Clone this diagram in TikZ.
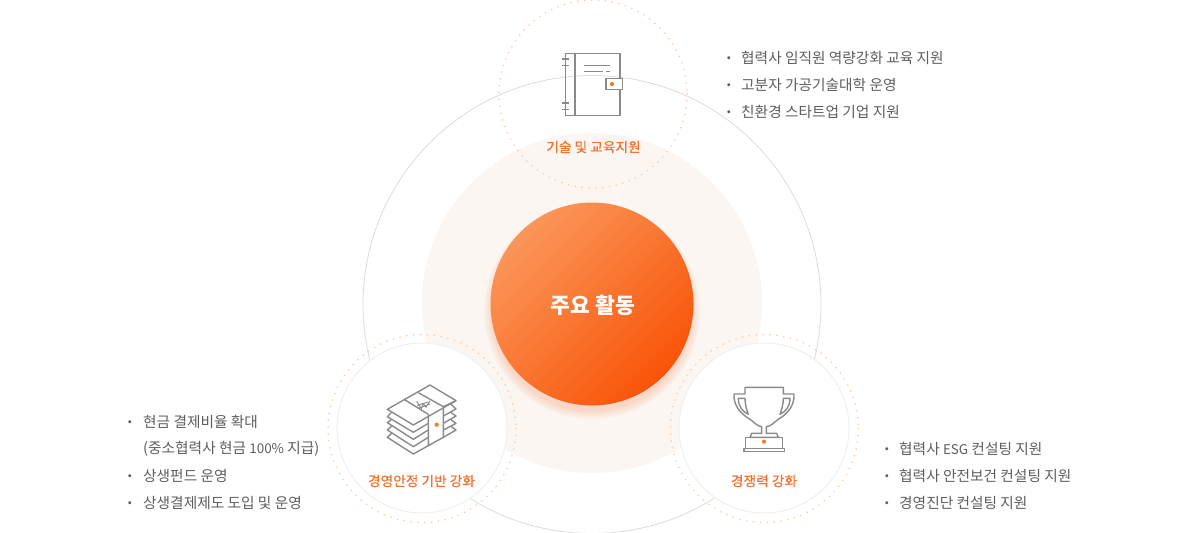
\documentclass[tikz,border=0pt]{standalone}
\usepackage{fontspec}
\setmainfont{Noto Sans CJK KR}
\definecolor{ringgray}{HTML}{DCDCDC}
\definecolor{palefill}{HTML}{FBF6F2}
\definecolor{dotorange}{HTML}{FACBAB}
\definecolor{labelorange}{HTML}{F4712B}
\definecolor{icongray}{HTML}{8A8A8A}
\definecolor{textgray}{HTML}{5E5E5E}
\definecolor{coreA}{HTML}{FA9659}
\definecolor{coreB}{HTML}{F95408}
\definecolor{dotcol}{HTML}{F77A30}
\newcommand{\latinpart}[1]{{\fontsize{13.4}{16}\selectfont #1}}
\tikzset{
  x=1pt,y=-1pt,
  dotring/.style={draw=dotorange,line width=1.8pt,line cap=round,dash pattern=on 0pt off 6.9pt},
  innerring/.style={circle,draw=black!6,line width=1pt,fill=white,minimum size=170pt,inner sep=0pt},
  listtext/.style={anchor=west,inner sep=0pt,text=textgray,font=\fontsize{14.7}{16}\selectfont},
  bullettext/.style={anchor=center,inner sep=0pt,text=textgray,font=\fontsize{14}{14}\selectfont\bfseries},
  circlabel/.style={anchor=center,inner sep=0pt,text=labelorange,font=\fontsize{13.7}{15}\selectfont\addfontfeature{FakeBold=0.35}},
  iconline/.style={draw=icongray,line width=1.4pt,line join=miter},
  icondot/.style={circle,fill=dotcol,minimum size=4.2pt,inner sep=0pt},
}
\begin{document}
\begin{tikzpicture}
\useasboundingbox (0,0) rectangle (1200,533);
\fill[white] (0,0) rectangle (1200,533);
% rings
\node[circle,draw=ringgray,line width=.8pt,minimum size=458pt,inner sep=0pt] (bigring) at (592,304.5) {};
\node[circle,fill=palefill,minimum size=340pt,inner sep=0pt] (palering) at (592,303) {};
% glow under the core
\foreach \r in {108,106.5,...,100}{\fill[coreB,opacity=.03] (592,311) circle (\r);}
\shade[shading=axis,left color=coreA,right color=coreB,shading angle=45] (592,304) circle (101.5);
\node[inner sep=0pt,text=white,font=\fontsize{21.5}{24}\selectfont\bfseries] (core) at (593,305) {주요 활동};
% top group
\draw[dotring] (593,94) circle (94);
\node[circlabel] (toplabel) at (593.5,147) {기술 및 교육지원};
% left group
\node[innerring] (leftring) at (422,428) {};
\draw[dotring] (422,428.5) circle (94);
\node[circlabel] (leftlabel) at (421.5,481) {경영안정 기반 강화};
% right group
\node[innerring] (rightring) at (764,428) {};
\draw[dotring] (764.5,428.5) circle (94);
\node[circlabel] (rightlabel) at (764,481) {경쟁력 강화};
% book icon
\begin{scope}[iconline]
\draw (565.3,53.3) rectangle (620,115.3);
\draw[line width=1.9pt] (575,53.3) -- (575,115.3);
\draw (562,59) -- (569,59) (562,65.7) -- (569,65.7) (562,103) -- (569,103) (562,109.3) -- (569,109.3);
\draw (584.3,65.7) -- (610,65.7) (584.3,71.3) -- (603,71.3) (606,71.3) -- (610,71.3);
\draw[fill=white] (606,78.7) rectangle (622.7,89.7);
\end{scope}
\node[icondot] (bookdot) at (612,84) {};
% money icon
\begin{scope}[shift={(380,380)},x=.3333pt,y=-.3333pt,iconline,line join=round]
\draw (22,88) -- (150,15) -- (228,62) -- (100,135) -- cycle;
\draw (72,58) -- (145,103) (115,38) -- (190,80);
\draw (145,103) -- (145,197) -- (190,172) -- (190,80);
\draw (35,97) -- (22,110) -- (100,157) -- (145,130);
\draw (35,118) -- (22,128) -- (100,178) -- (145,150);
\draw (35,138) -- (22,150) -- (100,200) -- (145,172);
\draw (35,160) -- (22,172) -- (100,222) -- (145,197);
\draw (190,80) -- (228,62);
\draw (212,72) -- (228,87) -- (190,108);
\draw (212,97) -- (228,108) -- (190,130);
\draw (212,118) -- (228,130) -- (190,150);
\draw (212,138) -- (228,150) -- (190,172);
\draw[line width=.9pt] (110,64) -- (124,86) -- (130,70) -- (138,82) -- (150,62) (112,76) -- (144,66) (117,84) -- (150,72);
\end{scope}
\node[icondot] (moneydot) at (436.7,424.7) {};
% trophy icon
\begin{scope}[shift={(720,380)},x=.3333pt,y=-.3333pt,iconline,line join=round]
\draw (75,42) -- (75,22) -- (190,22) -- (190,42) -- (222,42)
  .. controls (224,75) and (205,100) .. (175,118)
  .. controls (160,128) and (155,138) .. (139,140) -- (139,160) -- (170,160) -- (175,172)
  -- (90,172) -- (95,160) -- (125,160) -- (125,140)
  .. controls (110,138) and (105,128) .. (90,118)
  .. controls (60,100) and (40,75) .. (42,42) -- cycle;
\draw (55,55) -- (75,55) .. controls (75,72) and (80,90) .. (85,103) .. controls (68,95) and (55,80) .. cycle;
\draw (210,55) -- (190,55) .. controls (190,72) and (185,90) .. (180,103) .. controls (197,95) and (210,80) .. cycle;
\draw (77,172) rectangle (187,205);
\draw (72,205) rectangle (193,214);
\end{scope}
\node[icondot] (trophydot) at (764,441.7) {};
% top list
\node[bullettext] (tb1) at (729,60) {·};
\node[listtext] (tl1) at (741,57.5) {협력사 임직원 역량강화 교육 지원};
\node[bullettext] (tb2) at (729,87) {·};
\node[listtext] (tl2) at (741,84.5) {고분자 가공기술대학 운영};
\node[bullettext] (tb3) at (729,114) {·};
\node[listtext] (tl3) at (741,111.5) {친환경 스타트업 기업 지원};
% left list
\node[bullettext] (lb1) at (130,424) {·};
\node[listtext] (ll1) at (143,421.5) {현금 결제비율 확대};
\node[listtext] (ll2) at (143,448.5) {(중소협력사 현금 \latinpart{100\%} 지급)};
\node[bullettext] (lb3) at (130,478) {·};
\node[listtext] (ll3) at (143,475.5) {상생펀드 운영};
\node[bullettext] (lb4) at (130,505) {·};
\node[listtext] (ll4) at (143,502.5) {상생결제제도 도입 및 운영};
% right list
\node[bullettext] (rb1) at (887,451) {·};
\node[listtext] (rl1) at (899,448.5) {협력사 \latinpart{ESG} 컨설팅 지원};
\node[bullettext] (rb2) at (887,478) {·};
\node[listtext] (rl2) at (899,475.5) {협력사 안전보건 컨설팅 지원};
\node[bullettext] (rb3) at (887,505) {·};
\node[listtext] (rl3) at (899,502.5) {경영진단 컨설팅 지원};
\end{tikzpicture}
\end{document}
